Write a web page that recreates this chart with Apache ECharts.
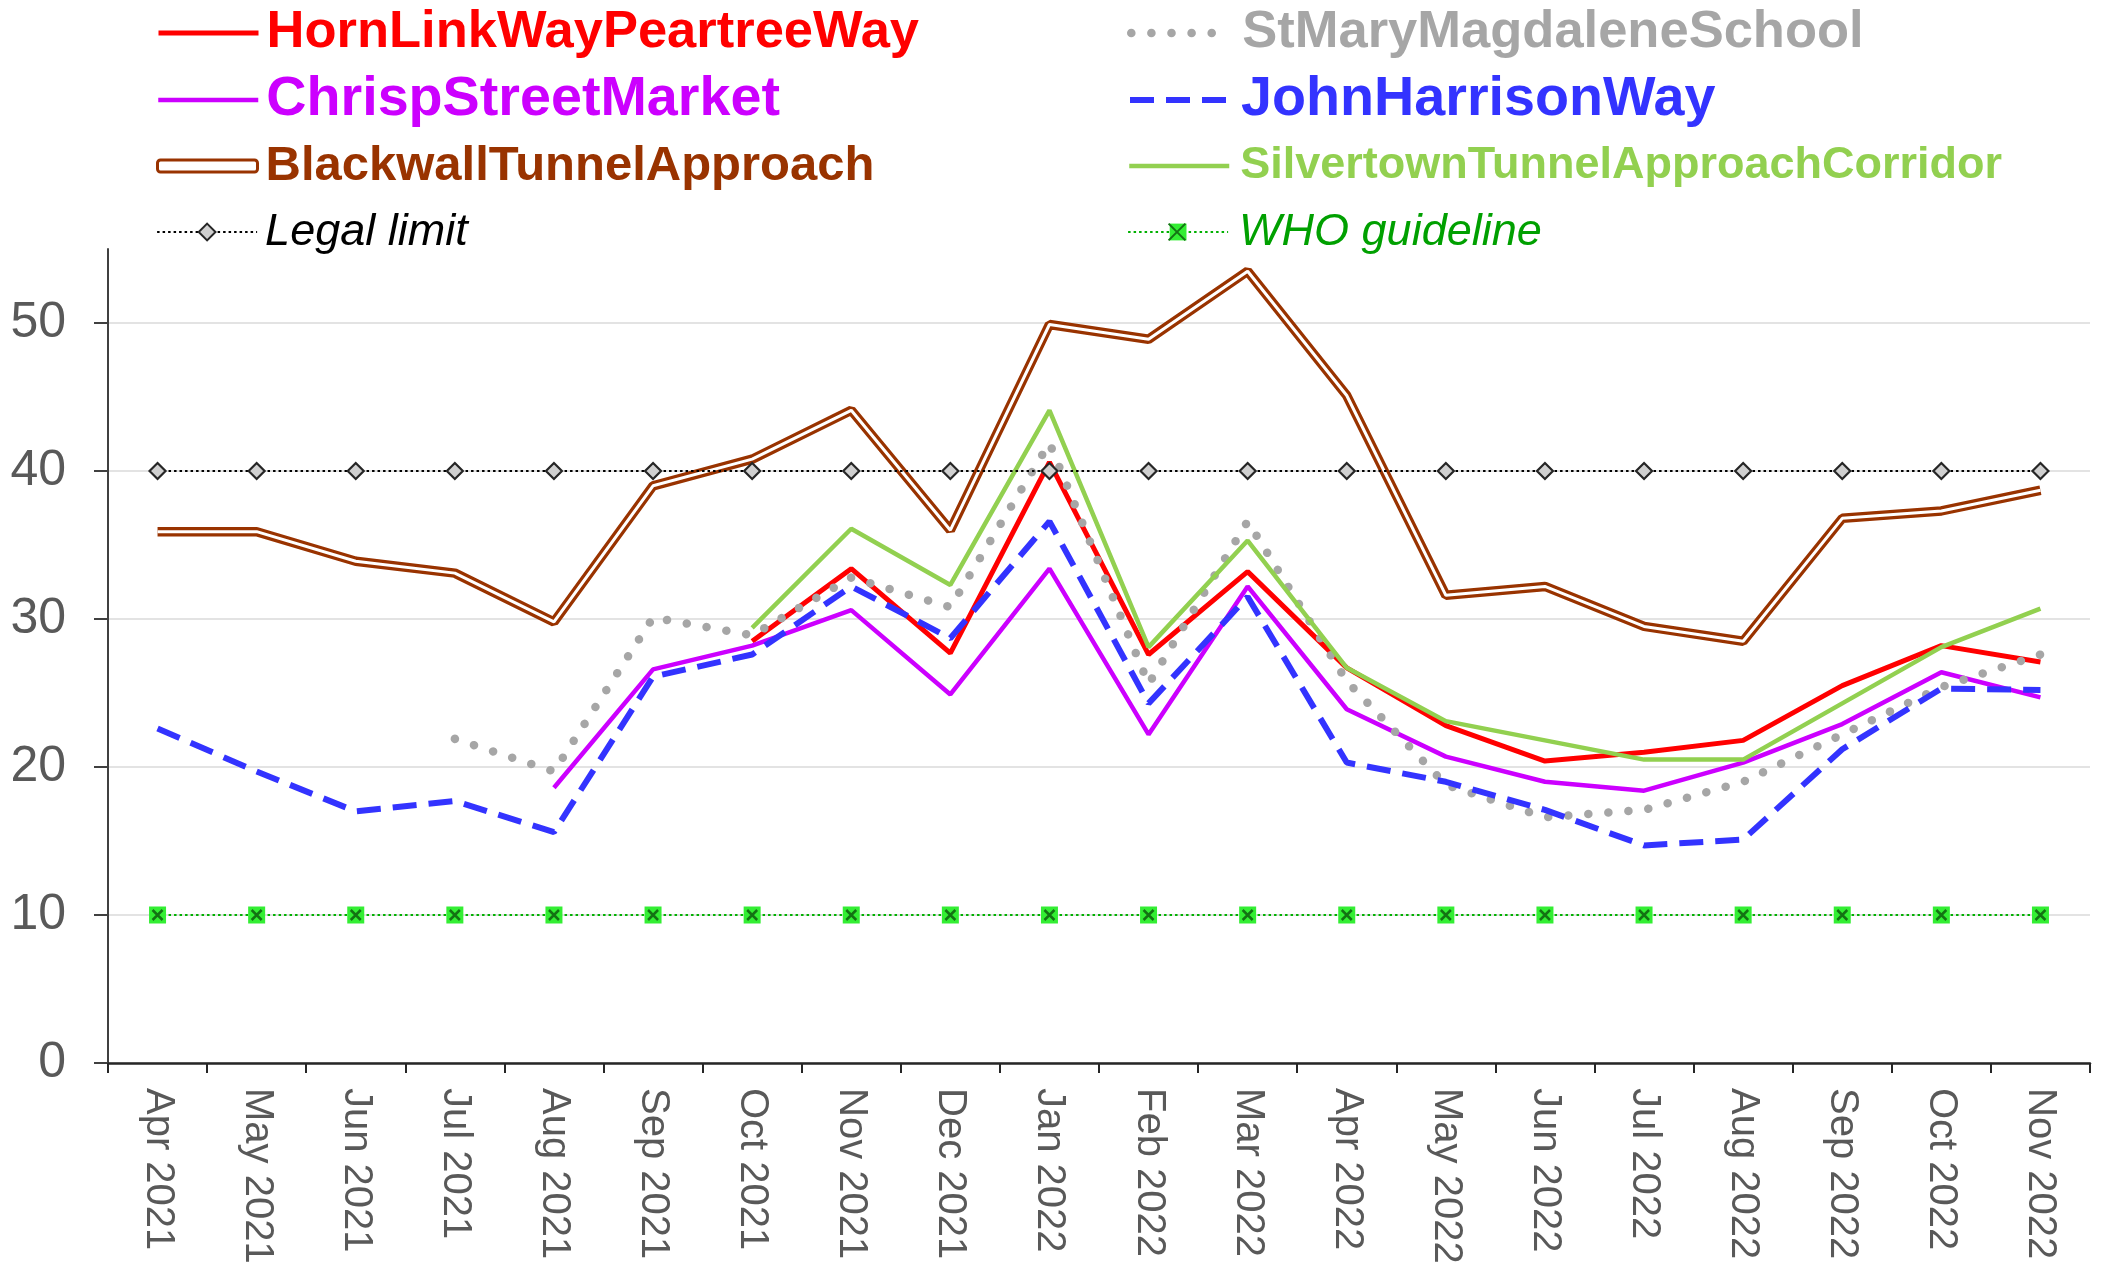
<!DOCTYPE html>
<html>
<head>
<meta charset="utf-8">
<script src="https://cdn.jsdelivr.net/npm/echarts@6/dist/echarts.min.js"></script>
<style>
  html, body { margin: 0; padding: 0; background: #fff; }
  #main { width: 2113px; height: 1265px; }
</style>
</head>
<body>
<div id="main"></div>
<script>
var myChart = echarts.init(document.getElementById('main'));

// 月份
var months = ['Apr 2021', 'May 2021', 'Jun 2021', 'Jul 2021', 'Aug 2021', 'Sep 2021', 'Oct 2021', 'Nov 2021', 'Dec 2021', 'Jan 2022',
  'Feb 2022', 'Mar 2022', 'Apr 2022', 'May 2022', 'Jun 2022', 'Jul 2022', 'Aug 2022', 'Sep 2022', 'Oct 2022', 'Nov 2022'];

var hornLink = [null, null, null, null, null, null, 28.5, 33.4, 27.7, 40.6, 27.6, 33.2, 26.7, 22.8, 20.4, 21.0, 21.8, 25.5, 28.2, 27.1];
var chrisp = [null, null, null, null, 18.6, 26.6, 28.2, 30.6, 24.9, 33.4, 22.2, 32.2, 23.9, 20.7, 19.0, 18.4, 20.3, 22.9, 26.4, 24.7];
var blackwall = [35.9, 35.9, 33.9, 33.1, 29.8, 39.0, 40.8, 44.1, 36.0, 49.9, 48.9, 53.5, 45.1, 31.6, 32.2, 29.5, 28.5, 36.8, 37.3, 38.7];
var stMary = [null, null, null, 21.9, 19.7, 30.1, 28.9, 32.8, 30.8, 41.9, 25.6, 36.6, 25.8, 18.8, 16.6, 17.1, 19.0, 22.2, 25.4, 27.6];
var johnHarrison = [22.6, 19.7, 17.0, 17.7, 15.6, 26.1, 27.6, 32.2, 28.7, 36.6, 24.3, 31.5, 20.3, 19.0, 17.1, 14.7, 15.1, 21.2, 25.3, 25.2];
var silvertown = [null, null, null, null, null, null, 29.4, 36.1, 32.3, 44.1, 28.1, 35.3, 26.7, 23.1, 21.8, 20.5, 20.5, 24.3, 28.1, 30.7];
var legalLimit = [40, 40, 40, 40, 40, 40, 40, 40, 40, 40, 40, 40, 40, 40, 40, 40, 40, 40, 40, 40];
var whoGuideline = [10, 10, 10, 10, 10, 10, 10, 10, 10, 10, 10, 10, 10, 10, 10, 10, 10, 10, 10, 10];

var yTicks = [0, 10, 20, 30, 40, 50];

var FONT = '"Liberation Sans", Arial, sans-serif';
var crossSymbol = 'path://M0,0 L10,10 M10,0 L0,10';

// 线宽 (图例和折线共用)
var lineW = {
  'HornLinkWayPeartreeWay': 5,
  'StMaryMagdaleneSchool': 8.5,
  'ChrispStreetMarket': 4.5,
  'JohnHarrisonWay': 6,
  'BlackwallTunnelApproach': 9.5,
  'SilvertownTunnelApproachCorridor': 4.5,
  'Legal limit': 2.2,
  'WHO guideline': 2.2
};

// 图例 两列, 每项单独一个 legend 方便定位
var legendDefs = [
  { name: 'HornLinkWayPeartreeWay', col: 0, row: 0, color: '#ff0000', size: 52.5 },
  { name: 'StMaryMagdaleneSchool', col: 1, row: 0, color: '#a6a6a6', size: 52.5 },
  { name: 'ChrispStreetMarket', col: 0, row: 1, color: '#cc00ff', size: 55.7 },
  { name: 'JohnHarrisonWay', col: 1, row: 1, color: '#3333ff', size: 55.7 },
  { name: 'BlackwallTunnelApproach', col: 0, row: 2, color: '#993300', size: 49, icon: 'roundRect', h: 12 },
  { name: 'SilvertownTunnelApproachCorridor', col: 1, row: 2, color: '#92d050', size: 45 },
  { name: 'Legal limit', col: 0, row: 3, color: '#000000', size: 45, italic: true, h: 21, marker: true },
  { name: 'WHO guideline', col: 1, row: 3, color: '#00a000', size: 45, italic: true, h: 21, marker: true }
];
var colLeft = [156, 1127];
var rowCenter = [33, 100, 166, 232];
var LH = 60;

var legends = legendDefs.map(function (d) {
  var lg = {
    data: [d.name],
    left: colLeft[d.col],
    top: rowCenter[d.row] - LH / 2,
    padding: 0,
    itemWidth: 100,
    itemHeight: d.h || 14,
    itemGap: 0,
    selectedMode: false,
    lineStyle: { width: lineW[d.name] },
    textStyle: {
      fontFamily: FONT,
      fontSize: d.size,
      fontWeight: d.italic ? 'normal' : 'bold',
      fontStyle: d.italic ? 'italic' : 'normal',
      color: d.color,
      lineHeight: LH,
      padding: [0, 0, 0, d.col === 0 ? 3 : 6]
    }
  };
  if (d.icon) {
    lg.icon = d.icon;
    lg.itemStyle = { color: '#ffffff', borderColor: d.color, borderWidth: 3 };
  } else if (!d.marker) {
    lg.itemStyle = { opacity: 0 };
  }
  return lg;
});
// WHO 图例里的叉号
legends.push({
  data: ['whoCross'],
  left: colLeft[1],
  top: rowCenter[3] - 21 / 2,
  padding: 0,
  itemWidth: 100,
  itemHeight: 21,
  selectedMode: false,
  formatter: function () { return ''; },
  textStyle: { fontSize: 1 }
});

option = {
  backgroundColor: '#ffffff',
  animation: false,
  legend: legends,
  grid: { left: 108, right: 23, top: 249, bottom: 202, containLabel: false, outerBoundsMode: 'none' },
  xAxis: {
    type: 'category',
    data: months,
    boundaryGap: true,
    axisLine: { lineStyle: { color: '#262626', width: 2.5 } },
    axisTick: { show: true, alignWithLabel: false, length: 10, lineStyle: { color: '#262626', width: 2 } },
    axisLabel: {
      interval: 0,
      rotate: -90,
      margin: 25,
      fontFamily: FONT,
      fontSize: 40,
      color: '#595959'
    },
    splitLine: { show: false }
  },
  yAxis: {
    type: 'value',
    min: 0,
    max: 55,
    interval: 10,
    axisLine: { show: true, lineStyle: { color: '#404040', width: 2 } },
    axisTick: { show: true, length: 14, lineStyle: { color: '#404040', width: 2 } },
    axisLabel: {
      margin: 42,
      fontFamily: FONT,
      fontSize: 50,
      color: '#595959',
      showMaxLabel: false,
      formatter: function (v) { return yTicks.indexOf(v) > -1 ? String(v) : ''; }
    },
    splitLine: { show: true, showMaxLine: false, lineStyle: { color: '#e3e3e3', width: 2 } }
  },
  series: [
    {
      name: 'HornLinkWayPeartreeWay', type: 'line', data: hornLink, symbol: 'none',
      lineStyle: { color: '#ff0000', width: lineW['HornLinkWayPeartreeWay'] }, itemStyle: { color: '#ff0000' }
    },
    {
      name: 'ChrispStreetMarket', type: 'line', data: chrisp, symbol: 'none',
      lineStyle: { color: '#cc00ff', width: lineW['ChrispStreetMarket'] }, itemStyle: { color: '#cc00ff' }
    },
    {
      name: 'BlackwallTunnelApproach', type: 'line', data: blackwall, symbol: 'none',
      lineStyle: { color: '#993300', width: lineW['BlackwallTunnelApproach'] }, itemStyle: { color: '#993300' }
    },
    {
      // 双线的白色内芯
      name: 'blackwallInner', type: 'line', data: blackwall, symbol: 'none',
      lineStyle: { color: '#ffffff', width: 3 }, itemStyle: { color: '#ffffff' }
    },
    {
      name: 'StMaryMagdaleneSchool', type: 'line', data: stMary, symbol: 'none',
      lineStyle: { color: '#a6a6a6', width: lineW['StMaryMagdaleneSchool'], type: [0.1, 20], cap: 'round' },
      itemStyle: { color: '#a6a6a6' }
    },
    {
      name: 'JohnHarrisonWay', type: 'line', data: johnHarrison, symbol: 'none',
      lineStyle: { color: '#3333ff', width: lineW['JohnHarrisonWay'], type: [24, 12] }, itemStyle: { color: '#3333ff' }
    },
    {
      name: 'SilvertownTunnelApproachCorridor', type: 'line', data: silvertown, symbol: 'none',
      lineStyle: { color: '#92d050', width: lineW['SilvertownTunnelApproachCorridor'] }, itemStyle: { color: '#92d050' }
    },
    {
      name: 'Legal limit', type: 'line', data: legalLimit, symbol: 'diamond', symbolSize: 16,
      lineStyle: { color: '#000000', width: lineW['Legal limit'], type: [2.5, 3] },
      itemStyle: { color: '#d0d0d0', borderColor: '#262626', borderWidth: 2.2 }
    },
    {
      name: 'WHO guideline', type: 'line', data: whoGuideline, symbol: 'rect', symbolSize: 17,
      lineStyle: { color: '#00b000', width: lineW['WHO guideline'], type: [2.5, 3] },
      itemStyle: { color: '#33ee33' }
    },
    {
      // WHO 方块上的叉
      name: 'whoCross', type: 'line', data: whoGuideline, symbol: crossSymbol, symbolSize: 10,
      lineStyle: { opacity: 0, width: 0 },
      itemStyle: { color: 'transparent', borderColor: '#137313', borderWidth: 2.5 }
    }
  ]
};

myChart.setOption(option);

window.addEventListener('resize', () => {
  myChart.resize();
});
</script>
</body>
</html>
